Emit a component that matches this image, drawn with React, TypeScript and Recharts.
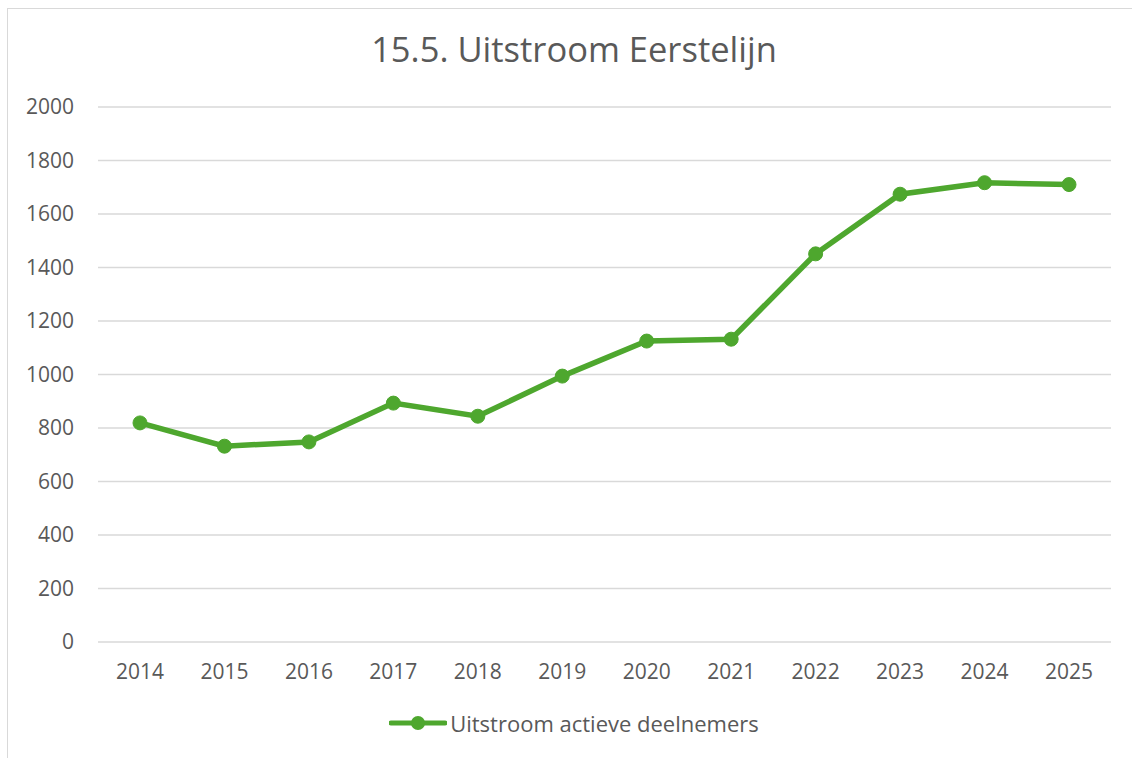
import React from 'react';
import { LineChart, Line, XAxis, YAxis, CartesianGrid, Legend } from 'recharts';

const years = ['2014', '2015', '2016', '2017', '2018', '2019', '2020', '2021', '2022', '2023', '2024', '2025'];
const uitstroom = [819, 732, 748, 893, 844, 994, 1125, 1132, 1451, 1674, 1717, 1710];
const yTicks = [0, 200, 400, 600, 800, 1000, 1200, 1400, 1600, 1800, 2000];
const seriesName = 'Uitstroom actieve deelnemers';
const title = '15.5. Uitstroom Eerstelijn';

const GREEN = '#4EA72E';
const TEXT = '#595959';
const FONT = "'Open Sans', sans-serif";

const data = years.map((year, i) => ({ year, value: uitstroom[i] }));

function LegendContent() {
  return (
    <div
      style={{
        display: 'flex',
        justifyContent: 'center',
        alignItems: 'center',
        height: 30,
        fontFamily: FONT,
        fontSize: 22,
        color: TEXT,
      }}
    >
      <svg width={58} height={16} style={{ marginRight: 3 }}>
        <line x1={2} y1={8} x2={56} y2={8} stroke={GREEN} strokeWidth={5} strokeLinecap="round" />
        <circle cx={29} cy={8} r={7} fill={GREEN} />
      </svg>
      <span>{seriesName}</span>
    </div>
  );
}

export default function App() {
  return (
    <div
      style={{
        position: 'fixed',
        left: 0,
        top: 0,
        width: 1132,
        height: 758,
        overflow: 'hidden',
        background: '#fff',
      }}
    >
      <div
        style={{
          position: 'absolute',
          left: 7,
          top: 8,
          width: 1200,
          height: 800,
          border: '1px solid #d9d9d9',
        }}
      />
      <div
        style={{
          position: 'absolute',
          left: 0,
          top: 26,
          width: 1148,
          textAlign: 'center',
          fontFamily: FONT,
          fontSize: 34.5,
          color: TEXT,
          lineHeight: '46px',
        }}
      >
        {title}
      </div>
      <div style={{ position: 'absolute', left: 0, top: 0 }}>
        <LineChart
          width={1132}
          height={758}
          data={data}
          margin={{ top: 107, right: 21, left: 0, bottom: 56 }}
        >
          <CartesianGrid stroke="#d9d9d9" strokeWidth={1.5} vertical={false} />
          <XAxis
            dataKey="year"
            axisLine={false}
            tickLine={false}
            tickSize={0}
            tickMargin={22}
            height={30}
            interval={0}
            padding={{ left: 42, right: 42 }}
            tick={{ fill: TEXT, fontSize: 21, fontFamily: FONT }}
          />
          <YAxis
            domain={[0, 2000]}
            ticks={yTicks}
            axisLine={false}
            tickLine={false}
            tickSize={0}
            tickMargin={24}
            width={98}
            tick={{ fill: TEXT, fontSize: 21, fontFamily: FONT }}
          />
          <Legend
            verticalAlign="bottom"
            content={<LegendContent />}
            wrapperStyle={{ bottom: 20, left: 8, width: 1132 }}
          />
          <Line
            dataKey="value"
            name={seriesName}
            stroke={GREEN}
            strokeWidth={5.5}
            dot={{ r: 7, fill: GREEN, stroke: GREEN, strokeWidth: 1 }}
            activeDot={false}
            isAnimationActive={false}
          />
        </LineChart>
      </div>
    </div>
  );
}
